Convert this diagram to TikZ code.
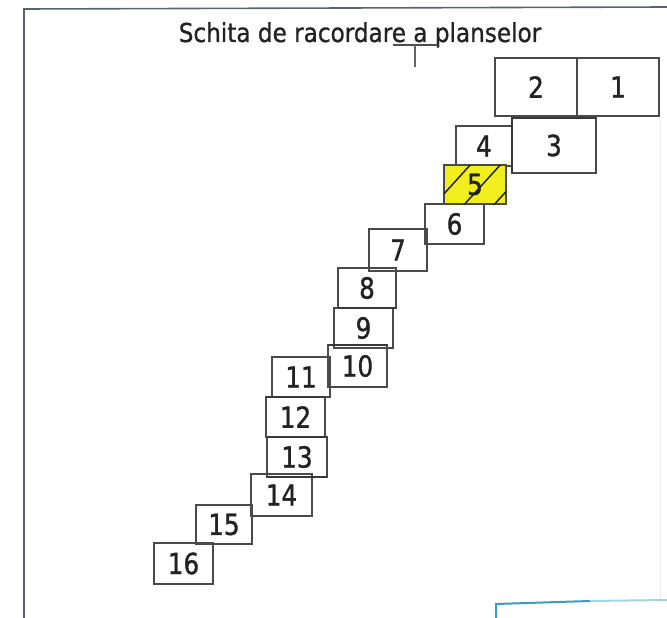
\documentclass[tikz,border=0pt]{standalone}
\usepackage{fontspec}
\newfontfamily\numfont[FakeStretch=0.85,FakeBold=1.2]{DejaVu Sans}
\newfontfamily\titlefont[FakeStretch=0.89,FakeBold=0.9]{DejaVu Sans}
\definecolor{boxline}{HTML}{4A4A4A}
\definecolor{ink}{HTML}{222222}
\definecolor{frameline}{HTML}{56656C}
\definecolor{hiyellow}{HTML}{F0EE1C}
\definecolor{cyanline}{HTML}{3D9DBF}
\definecolor{cyanlight}{HTML}{A6D3E4}
\tikzset{
  box/.style={draw=boxline, line width=1.4pt, inner sep=0pt, outer sep=0pt,
    text=ink, font=\numfont\fontsize{29}{29}\selectfont},
  thickedge/.style={draw=ink!90, line width=2.6pt},
  hatch/.style={draw=ink, line width=1.5pt},
  frame/.style={draw=frameline, line width=1.6pt},
}
\newcommand\plan[6]{%
  \pgfmathsetmacro\pw{#4-#2}\pgfmathsetmacro\ph{#5-#3}%
  \node[box, minimum width=\pw pt, minimum height=\ph pt] (#1) at ({(#2+#4)/2},{(#3+#5)/2}) {#6};}
\begin{document}
\begin{tikzpicture}[x=1pt,y=-1pt]
\useasboundingbox (0,0) rectangle (667,618);
% frame
\coordinate (ftl) at (24,9);
\coordinate (ftr) at (667,7);
\coordinate (fbl) at (24,618);
\draw[frame] (fbl) -- (ftl) -- (ftr);
\coordinate (rtop) at (660,120);
\coordinate (rbot) at (660,600);
\draw[gray!15, line width=1pt] (rtop) -- (rbot);
% title
\node[anchor=base, text=ink, font=\titlefont\fontsize{26}{26}\selectfont, inner sep=0pt] (title) at (360,42) {Schita de racordare a planselor};
\coordinate (ul1) at (393,45);
\coordinate (ul2) at (438,45);
\coordinate (mk1) at (415,45);
\coordinate (mk2) at (415,67);
\draw[ink!80, line width=1.2pt] (ul1) -- (ul2);
\draw[ink!70, line width=1.6pt] (mk1) -- (mk2);
% sheets
\plan{b1}{577}{58}{659}{116}{1}
\plan{b2}{495}{58}{577}{116}{2}
\plan{b4}{456}{126}{512}{166}{4}
\plan{b3}{512}{118}{596}{173}{3}
\plan{b6}{425}{204}{484}{244}{6}
\plan{b7}{369}{229}{427}{271}{7}
\plan{b8}{338}{268}{396}{308}{8}
\plan{b9}{334}{308}{393}{348}{9}
\plan{b11}{272}{357}{330}{397}{11}
\plan{b10}{328}{345}{387}{387}{10}
\plan{b12}{266}{397}{325}{437}{12}
\plan{b13}{267}{437}{327}{477}{13}
\plan{b14}{251}{474}{312}{516}{14}
\plan{b15}{196}{505}{252}{544}{15}
\plan{b16}{154}{543}{213}{584}{16}
% highlighted sheet 5
\pgfmathsetmacro\pw{506-444}\pgfmathsetmacro\ph{204-165}
\node[box, fill=hiyellow, minimum width=\pw pt, minimum height=\ph pt] (b5) at (475,184.5) {};
\begin{scope}
  \clip (b5.south west) rectangle (b5.north east);
  \foreach \hx in {452,482,512}{
    \draw[hatch] (\hx-30,218) -- (\hx+30,152);
  }
\end{scope}
\node[box, draw=none] (b5t) at (b5.center) {5};
% heavier edges
\draw[thickedge] (b3.south west) -- (b3.north west) -- (b3.north east);
\draw[thickedge] (b8.south west) -- (b8.south east);
\draw[thickedge] (b10.north west) -- (b10.north east);
\draw[thickedge] (b12.north west) -- (b12.north east);
\draw[thickedge] (b13.north west) -- (b13.north east);
\draw[thickedge] (b13.south west) -- (b13.south east);
% cyan fragment at bottom
\coordinate (c0) at (496,618);
\coordinate (c1) at (496,604);
\coordinate (c2) at (590,601);
\coordinate (c3) at (667,600);
\draw[cyanline, line width=2pt] (c0) -- (c1) -- (c2);
\draw[cyanlight, line width=2pt] (c2) -- (c3);
\end{tikzpicture}
\end{document}
